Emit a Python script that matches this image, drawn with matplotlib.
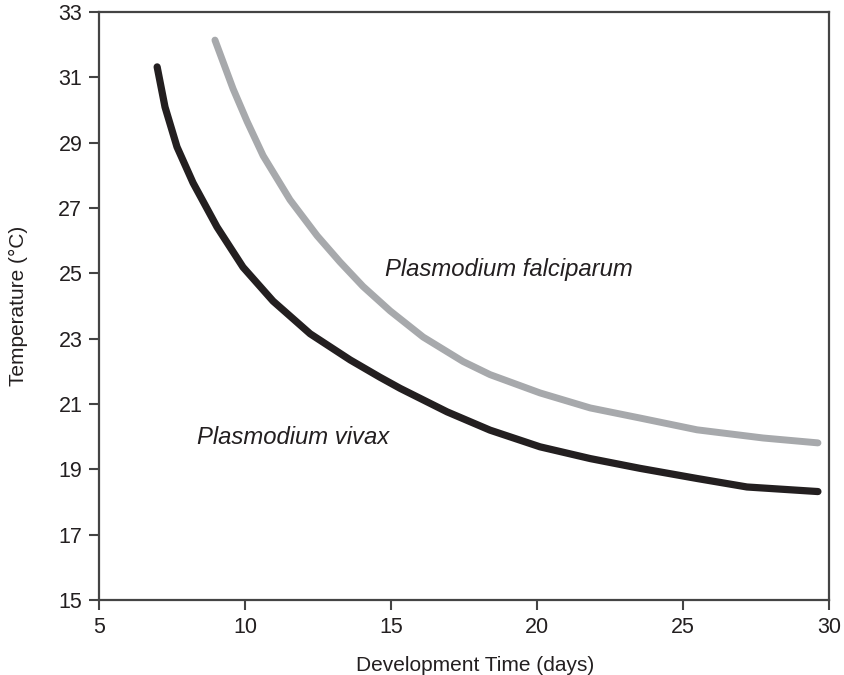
import matplotlib
matplotlib.use("Agg")
import matplotlib.pyplot as plt

plt.rcParams['font.family'] = ['Liberation Sans', 'DejaVu Sans']

# Plasmodium vivax (black curve)
vivax_days = [6.99, 7.26, 7.67, 8.22, 9.04, 9.93, 10.96, 12.23, 13.60, 14.62, 15.31,
              16.92, 18.39, 20.10, 21.82, 23.53, 25.48, 27.19, 29.62]
vivax_temp = [31.32, 30.09, 28.87, 27.77, 26.42, 25.19, 24.15, 23.15, 22.35, 21.82, 21.48,
              20.76, 20.20, 19.69, 19.33, 19.03, 18.72, 18.46, 18.32]

# Plasmodium falciparum (grey curve)
falc_days = [8.97, 9.59, 10.07, 10.62, 11.54, 12.47, 13.25, 14.04, 14.97, 16.10, 17.47,
             18.39, 20.10, 21.82, 23.53, 25.48, 27.74, 29.62]
falc_temp = [32.14, 30.65, 29.65, 28.60, 27.25, 26.15, 25.35, 24.60, 23.85, 23.05, 22.30,
             21.90, 21.34, 20.88, 20.57, 20.21, 19.96, 19.81]

xticks = [5, 10, 15, 20, 25, 30]
yticks = [15, 17, 19, 21, 23, 25, 27, 29, 31, 33]

fig = plt.figure(figsize=(8.45, 6.75), dpi=100)
ax = fig.add_axes([0.1172, 0.1111, 0.8639, 0.8711])

ax.plot(falc_days, falc_temp, color='#a7a9ac', lw=5, solid_capstyle='round',
        solid_joinstyle='round')
ax.plot(vivax_days, vivax_temp, color='#231f20', lw=5.2, solid_capstyle='round',
        solid_joinstyle='round')

ax.text(14.8, 25.13, 'Plasmodium falciparum', style='italic', fontsize=17.2,
        va='center', ha='left', color='#231f20')
ax.text(8.36, 19.99, 'Plasmodium vivax', style='italic', fontsize=17.2,
        va='center', ha='left', color='#231f20')

ax.set_xlim(5, 30)
ax.set_ylim(15, 33)
ax.set_xticks(xticks)
ax.set_yticks(yticks)
ax.tick_params(direction='out', length=7, width=1.5, color='#444444',
               labelsize=15.5, labelcolor='#231f20', pad=5)
for s in ax.spines.values():
    s.set_color('#444444')
    s.set_linewidth(1.6)

ax.set_xlabel('Development Time (days)', fontsize=15, color='#231f20', labelpad=14)
ax.xaxis.set_label_coords(0.515, -0.095)
ax.set_ylabel('Temperature (°C)', fontsize=15, color='#231f20', labelpad=22)

fig.savefig('out.png', dpi=100)
